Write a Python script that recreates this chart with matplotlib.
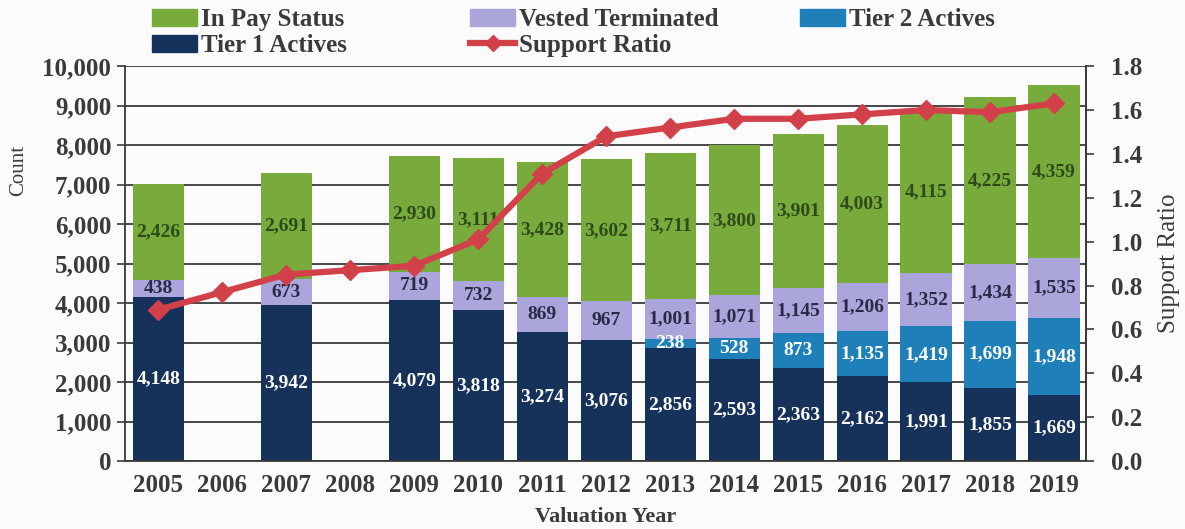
import matplotlib
matplotlib.use("Agg")
import matplotlib.pyplot as plt
from matplotlib.ticker import FuncFormatter, MultipleLocator
from matplotlib.patches import Patch
from matplotlib.lines import Line2D
import numpy as np

plt.rcParams['font.family'] = ['Liberation Serif', 'DejaVu Serif']

years = ["2005", "2006", "2007", "2008", "2009", "2010", "2011", "2012",
         "2013", "2014", "2015", "2016", "2017", "2018", "2019"]
# None marks years without a valuation count
tier1_actives = [4148, None, 3942, None, 4079, 3818, 3274, 3076, 2856, 2593,
                 2363, 2162, 1991, 1855, 1669]
tier2_actives = [0, None, 0, None, 0, 0, 0, 0, 238, 528, 873, 1135, 1419,
                 1699, 1948]
vested_terminated = [438, None, 673, None, 719, 732, 869, 967, 1001, 1071,
                     1145, 1206, 1352, 1434, 1535]
in_pay_status = [2426, None, 2691, None, 2930, 3111, 3428, 3602, 3711, 3800,
                 3901, 4003, 4115, 4225, 4359]
support_ratio = [0.69, 0.77, 0.85, 0.87, 0.89, 1.01, 1.31, 1.48, 1.52, 1.56,
                 1.56, 1.58, 1.60, 1.59, 1.63]

C_PAY = "#79ab3c"
C_VEST = "#aaa6dc"
C_T2 = "#1f7fb8"
C_T1 = "#16325a"
C_LINE = "#d2414a"
TXT = "#3a3a3a"

fig = plt.figure(figsize=(11.85, 5.29), dpi=100)
fig.patch.set_facecolor("#fbfbfb")
ax = fig.add_axes([0.1055, 0.1285, 0.811, 0.7465])
ax.set_facecolor("#fbfbfb")

x = np.arange(len(years))
idx = [i for i, v in enumerate(tier1_actives) if v is not None]
xb = x[idx]
t1 = np.array([tier1_actives[i] for i in idx], float)
t2 = np.array([tier2_actives[i] for i in idx], float)
vt = np.array([vested_terminated[i] for i in idx], float)
ip = np.array([in_pay_status[i] for i in idx], float)

w = 0.8
ax.bar(xb, t1, w, color=C_T1, zorder=2)
ax.bar(xb, t2, w, bottom=t1, color=C_T2, zorder=2)
ax.bar(xb, vt, w, bottom=t1 + t2, color=C_VEST, zorder=2)
ax.bar(xb, ip, w, bottom=t1 + t2 + vt, color=C_PAY, zorder=2)

lab_kw = dict(ha="center", va="center", fontsize=14, fontweight="bold", zorder=3)
for j, xi in enumerate(xb):
    ax.text(xi, t1[j] / 2, f"{int(t1[j]):,}", color="white", **lab_kw)
    if t2[j] > 0:
        ax.text(xi, t1[j] + t2[j] / 2, f"{int(t2[j]):,}", color="white", **lab_kw)
    ax.text(xi, t1[j] + t2[j] + vt[j] / 2, f"{int(vt[j]):,}", color="#2a2a48", **lab_kw)
    ax.text(xi, t1[j] + t2[j] + vt[j] + ip[j] / 2, f"{int(ip[j]):,}",
            color="#2f4a1a", **lab_kw)

ax.set_ylim(0, 10000)
ax.set_xlim(-0.52, 14.5)
ax.yaxis.set_major_locator(MultipleLocator(1000))
ax.yaxis.set_major_formatter(FuncFormatter(lambda v, p: f"{int(v):,}"))
ax.grid(axis="y", color="#3a3a3a", linewidth=1.3, zorder=0)
ax.set_axisbelow(True)
ax.set_xticks(x)
ax.set_xticklabels(years)
ax.spines["top"].set_visible(False)
for s in ["left", "bottom", "right"]:
    ax.spines[s].set_color("#3a3a3a")
    ax.spines[s].set_linewidth(1.3)
ax.tick_params(axis="y", direction="out", length=6, width=1.2, color="#3a3a3a",
               labelsize=18, labelcolor=TXT, pad=4)
ax.tick_params(axis="x", length=0, labelsize=18, labelcolor=TXT, pad=9)
for lbl in ax.get_xticklabels() + ax.get_yticklabels():
    lbl.set_fontweight("bold")
ax.set_ylabel("Count", fontsize=15, color=TXT)
ax.yaxis.set_label_coords(-0.101, 0.735)
ax.set_xlabel("Valuation Year", fontsize=16, fontweight="bold", color=TXT)
ax.xaxis.set_label_coords(0.5, -0.116)

ax2 = ax.twinx()
ax2.plot(x, support_ratio, color=C_LINE, linewidth=4.5, marker="D", markersize=10,
         zorder=5)
ax2.set_ylim(0, 1.8)
ax2.yaxis.set_major_locator(MultipleLocator(0.2))
ax2.yaxis.set_major_formatter(FuncFormatter(lambda v, p: f"{v:.1f}"))
ax2.tick_params(axis="y", direction="out", length=6, width=1.2, color="#3a3a3a",
                labelsize=18, labelcolor=TXT, pad=12)
for lbl in ax2.get_yticklabels():
    lbl.set_fontweight("bold")
for s in ["top", "left", "bottom"]:
    ax2.spines[s].set_visible(False)
ax2.spines["right"].set_color("#3a3a3a")
ax2.spines["right"].set_linewidth(1.3)
ax2.set_ylabel("Support Ratio", fontsize=18, color=TXT)
ax2.yaxis.set_label_coords(1.075, 0.5)

# Legend laid out in three fixed-width columns
columns = [
    (152, [Patch(color=C_PAY, label="In Pay Status"),
           Patch(color=C_T1, label="Tier 1 Actives")]),
    (470, [Patch(color=C_VEST, label="Vested Terminated"),
           Line2D([], [], color=C_LINE, linewidth=4.5, marker="D", markersize=8,
                  label="Support Ratio")]),
    (800, [Patch(color=C_T2, label="Tier 2 Actives")]),
]
W, H = 1185, 529
for xpix, hs in columns:
    leg = fig.legend(handles=hs, loc="upper left",
                     bbox_to_anchor=(xpix / W, 1 - 8 / H), frameon=False,
                     borderpad=0, borderaxespad=0,
                     prop={"size": 18, "weight": "bold"}, handlelength=1.8,
                     handleheight=0.65, handletextpad=0.15, labelspacing=0.12)
    for t in leg.get_texts():
        t.set_color(TXT)

fig.savefig("out.png", dpi=100, facecolor=fig.get_facecolor())
